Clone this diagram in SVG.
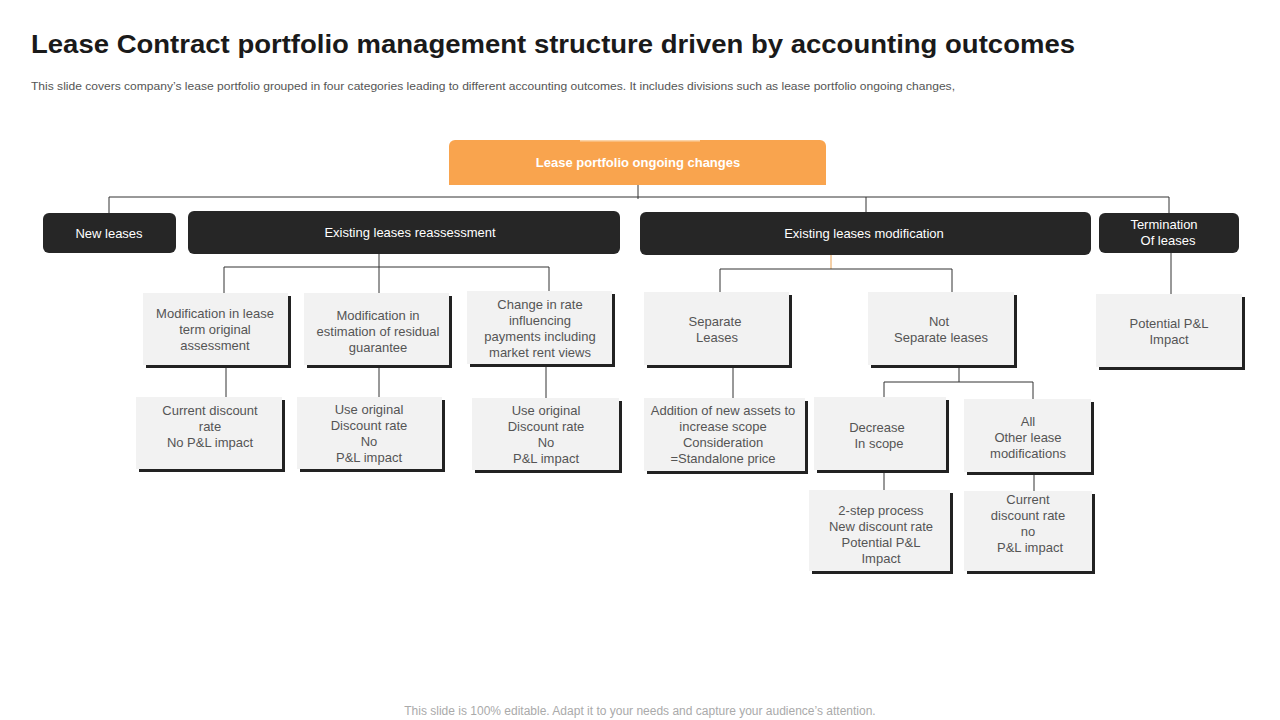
<svg xmlns="http://www.w3.org/2000/svg" width="1280" height="720" viewBox="0 0 1280 720">
<style>
.title{font-family:"Liberation Sans",Arial,sans-serif;font-weight:bold;font-size:26px;fill:#1a1a1a}
.sub{font-family:"Liberation Sans",Arial,sans-serif;font-size:11.5px;fill:#555}
.foot{font-family:"Liberation Sans",Arial,sans-serif;font-size:12px;fill:#aaa}
.dark{fill:#262626}
.dt{font-family:"Liberation Sans",Arial,sans-serif;font-size:13px;fill:#fff;text-anchor:middle}
.gb{fill:#f2f2f2}
.sh{fill:#222}
.gt{font-family:"Liberation Sans",Arial,sans-serif;font-size:13px;fill:#555;text-anchor:middle}
.ot{font-family:"Liberation Sans",Arial,sans-serif;font-weight:bold;font-size:13px;fill:#fff;text-anchor:middle}
.ln{stroke:#333;stroke-width:1;fill:none}
.lo{stroke:#e8a050;stroke-width:1;fill:none}
</style>
<rect width="1280" height="720" fill="#fff"/>
<text class="title" x="31" y="53" textLength="1044" lengthAdjust="spacingAndGlyphs">Lease Contract portfolio management structure driven by accounting outcomes</text>
<text class="sub" x="31" y="90" textLength="924" lengthAdjust="spacingAndGlyphs">This slide covers company’s lease portfolio grouped in four categories leading to different accounting outcomes. It includes divisions such as lease portfolio ongoing changes,</text>

<g id="connectors">
<path class="ln" d="M638 185V199M109 197H1169M109 197V213M866 197V212M1169 197V213"/>
<path class="ln" d="M379 254V267M224 267H549M224 267V293M379 267V293M549 267V291"/>
<path class="lo" d="M831 255V269"/>
<path class="ln" d="M720 269H952M720 269V292M952 269V292"/>
<path class="ln" d="M1171 253V294"/>
<path class="ln" d="M226 367V397M379 367V397M546 366V398M733 367V398"/>
<path class="ln" d="M959 367V382M884 382H1033M884 382V397M1033 382V399"/>
<path class="ln" d="M884 472V490M1034 474V491"/>
</g>

<g id="root">
<path d="M455 140H820A6 6 0 0 1 826 146V185H449V146A6 6 0 0 1 455 140Z" fill="#f9a44e"/>
<path d="M580 140.8H700" stroke="#fbd3a8" stroke-width="1.5"/>
<text class="ot" x="638" y="167">Lease portfolio ongoing changes</text>
</g>

<g id="new-leases">
<rect class="dark" x="43" y="213" width="133" height="40" rx="6"/>
<text class="dt" x="109" y="238">New leases</text>
</g>
<g id="reassessment">
<rect class="dark" x="188" y="211" width="432" height="43" rx="6"/>
<text class="dt" x="410" y="237">Existing leases reassessment</text>
</g>
<g id="modification">
<rect class="dark" x="640" y="212" width="451" height="43" rx="6"/>
<text class="dt" x="864" y="238">Existing leases modification</text>
</g>
<g id="termination">
<rect class="dark" x="1099" y="213" width="140" height="40" rx="6"/>
<text class="dt" x="1164" y="229">Termination</text>
<text class="dt" x="1168" y="245">Of leases</text>
</g>

<g id="box-a">
<rect class="sh" x="146" y="296" width="145" height="72"/>
<rect class="gb" x="143" y="293" width="145" height="72"/>
<text class="gt" x="215" y="318">Modification in lease</text>
<text class="gt" x="215" y="334">term original</text>
<text class="gt" x="215" y="350">assessment</text>
</g>
<g id="box-b">
<rect class="sh" x="307" y="296" width="145" height="72"/>
<rect class="gb" x="304" y="293" width="145" height="72"/>
<text class="gt" x="378" y="320">Modification in</text>
<text class="gt" x="378" y="336">estimation of residual</text>
<text class="gt" x="378" y="352">guarantee</text>
</g>
<g id="box-c">
<rect class="sh" x="470" y="294" width="145" height="73"/>
<rect class="gb" x="467" y="291" width="145" height="73"/>
<text class="gt" x="540" y="309">Change  in rate</text>
<text class="gt" x="540" y="325">influencing</text>
<text class="gt" x="540" y="341">payments including</text>
<text class="gt" x="540" y="357">market rent views</text>
</g>
<g id="box-d">
<rect class="sh" x="647" y="295" width="145" height="73"/>
<rect class="gb" x="644" y="292" width="145" height="73"/>
<text class="gt" x="715" y="326">Separate</text>
<text class="gt" x="717" y="342">Leases</text>
</g>
<g id="box-e">
<rect class="sh" x="871" y="295" width="146" height="73"/>
<rect class="gb" x="868" y="292" width="146" height="73"/>
<text class="gt" x="939" y="326">Not</text>
<text class="gt" x="941" y="342">Separate leases</text>
</g>
<g id="box-f">
<rect class="sh" x="1099" y="297" width="146" height="73"/>
<rect class="gb" x="1096" y="294" width="146" height="73"/>
<text class="gt" x="1169" y="328">Potential P&amp;L</text>
<text class="gt" x="1169" y="344">Impact</text>
</g>

<g id="box-g">
<rect class="sh" x="139" y="400" width="146" height="72"/>
<rect class="gb" x="136" y="397" width="146" height="72"/>
<text class="gt" x="210" y="415">Current  discount</text>
<text class="gt" x="210" y="431">rate</text>
<text class="gt" x="210" y="447">No P&amp;L impact</text>
</g>
<g id="box-h">
<rect class="sh" x="300" y="400" width="145" height="72"/>
<rect class="gb" x="297" y="397" width="145" height="72"/>
<text class="gt" x="369" y="414">Use original</text>
<text class="gt" x="369" y="430">Discount rate</text>
<text class="gt" x="369" y="446">No</text>
<text class="gt" x="369" y="462">P&amp;L impact</text>
</g>
<g id="box-i">
<rect class="sh" x="475" y="401" width="147" height="72"/>
<rect class="gb" x="472" y="398" width="147" height="72"/>
<text class="gt" x="546" y="415">Use original</text>
<text class="gt" x="546" y="431">Discount rate</text>
<text class="gt" x="546" y="447">No</text>
<text class="gt" x="546" y="463">P&amp;L impact</text>
</g>
<g id="box-j">
<rect class="sh" x="647" y="401" width="161" height="73"/>
<rect class="gb" x="644" y="398" width="161" height="73"/>
<text class="gt" x="723" y="415">Addition of new assets to</text>
<text class="gt" x="723" y="431">increase scope</text>
<text class="gt" x="723" y="447">Consideration</text>
<text class="gt" x="723" y="463">=Standalone price</text>
</g>
<g id="box-k">
<rect class="sh" x="817" y="400" width="132" height="73"/>
<rect class="gb" x="814" y="397" width="132" height="73"/>
<text class="gt" x="877" y="432">Decrease</text>
<text class="gt" x="879" y="448">In scope</text>
</g>
<g id="box-l">
<rect class="sh" x="967" y="402" width="127" height="73"/>
<rect class="gb" x="964" y="399" width="127" height="73"/>
<text class="gt" x="1028" y="426">All</text>
<text class="gt" x="1028" y="442">Other lease</text>
<text class="gt" x="1028" y="458">modifications</text>
</g>
<g id="box-m">
<rect class="sh" x="812" y="493" width="141" height="81"/>
<rect class="gb" x="809" y="490" width="141" height="81"/>
<text class="gt" x="881" y="515">2-step process</text>
<text class="gt" x="881" y="531">New discount rate</text>
<text class="gt" x="881" y="547">Potential P&amp;L</text>
<text class="gt" x="881" y="563">Impact</text>
</g>
<g id="box-n">
<rect class="sh" x="967" y="494" width="128" height="80"/>
<rect class="gb" x="964" y="491" width="128" height="80"/>
<text class="gt" x="1028" y="504">Current</text>
<text class="gt" x="1028" y="520">discount rate</text>
<text class="gt" x="1028" y="536">no</text>
<text class="gt" x="1030" y="552">P&amp;L impact</text>
</g>

<text class="foot" x="640" y="715" text-anchor="middle">This slide is 100% editable. Adapt it to your needs and capture your audience’s attention.</text>
</svg>
